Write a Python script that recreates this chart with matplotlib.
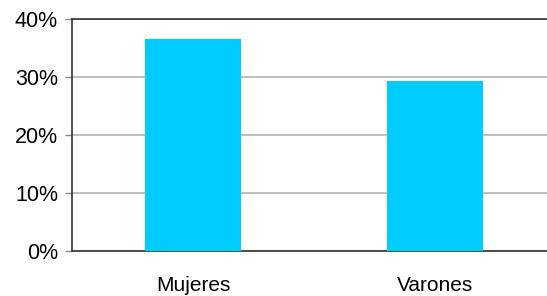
import matplotlib
matplotlib.use("Agg")
import matplotlib.pyplot as plt
from matplotlib.ticker import FuncFormatter

categories = ["Mujeres", "Varones"]
values = [36.6, 29.3]
yticks = [0, 10, 20, 30, 40]

plt.rcParams['font.family'] = ['Liberation Sans', 'DejaVu Sans']

fig = plt.figure(figsize=(5.47, 2.96), dpi=100)
ax = fig.add_axes([72/547, 45.3/296, 484/547, 231.7/296])
x = list(range(len(categories)))
ax.bar(x, values, width=0.4, color="#00CCFF", zorder=3)
ax.set_xlim(-0.5, 1.5)
ax.set_ylim(0, 40)
ax.set_yticks(yticks)
ax.yaxis.set_major_formatter(FuncFormatter(lambda v, p: f"{int(v)}%"))
ax.set_xticks(x)
ax.set_xticklabels(categories)
ax.grid(axis='y', color="#b4b4b4", linewidth=1.2, zorder=0)
ax.tick_params(axis='y', length=5, width=1, color="#888888", labelsize=15.5, pad=5)
ax.tick_params(axis='x', length=0, labelsize=15, pad=18)
for s in ['left', 'bottom', 'top']:
    ax.spines[s].set_color("#333333")
    ax.spines[s].set_linewidth(1.2)
ax.spines['right'].set_visible(False)
fig.savefig("out.png", dpi=100)
